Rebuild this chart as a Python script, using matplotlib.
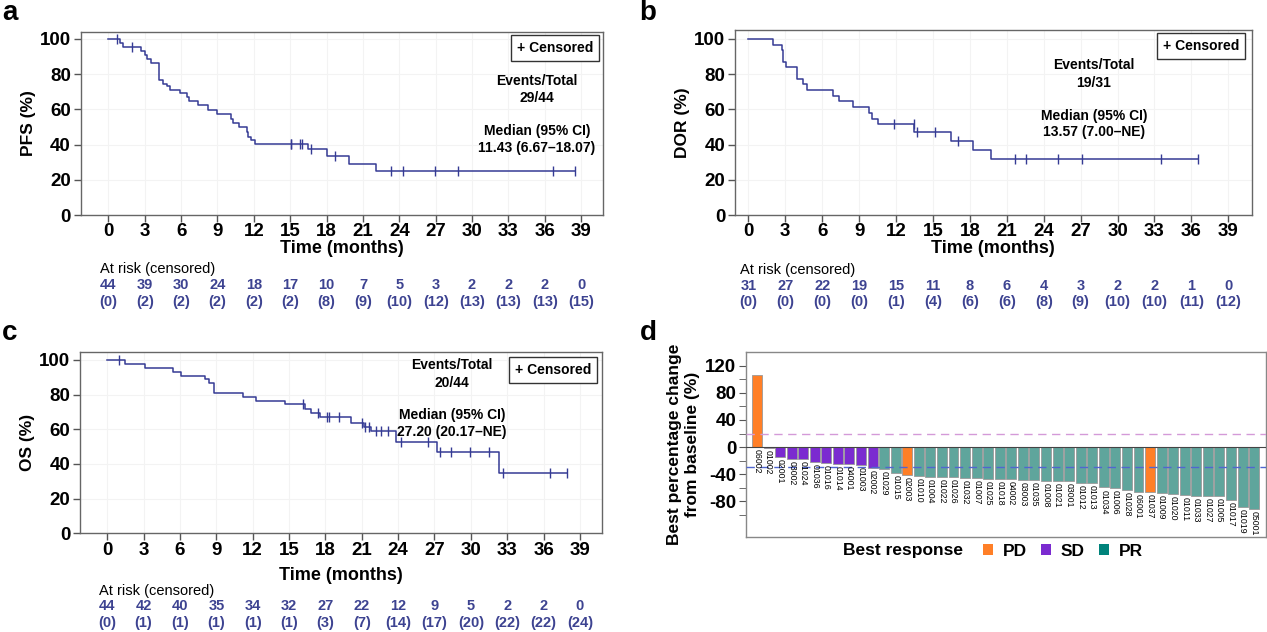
import numpy as np
import matplotlib.pyplot as plt
from matplotlib.patches import Patch
from matplotlib import transforms

plt.rcParams['font.family'] = ['Liberation Sans', 'DejaVu Sans']
plt.rcParams['axes.unicode_minus'] = False

# ---------------- data ----------------
month_ticks = list(range(0, 40, 3))

# a: PFS
pfs_t = [0, 0.96, 1.18, 2.66, 3.05, 3.2, 3.5, 4.2, 4.48, 4.8, 5.08, 5.9, 6.46, 6.65, 7.4,
         8.24, 8.93, 10.08, 10.3, 10.77, 11.4, 11.54, 11.73, 12.09, 16.48, 18.0, 19.86, 22.1]
pfs_s = [100, 97.7, 95.5, 93.2, 90.9, 88.6, 86.4, 76.4, 74.5, 73.0, 71.1, 69.2, 67.0, 64.7, 62.3,
         59.4, 57.2, 54.7, 52.3, 50.0, 47.2, 44.3, 42.5, 40.6, 37.4, 33.4, 28.9, 25.1]
pfs_cens = [0.74, 1.92, 15.03, 15.1, 15.8, 16.0, 16.7, 18.7, 23.35, 24.3, 26.95, 28.85, 36.7, 38.46]
pfs_risk = [44, 39, 30, 24, 18, 17, 10, 7, 5, 3, 2, 2, 2, 0]
pfs_rcens = [0, 2, 2, 2, 2, 2, 8, 9, 10, 12, 13, 13, 13, 15]

# b: DOR
dor_t = [0, 2.03, 2.7, 2.78, 3.06, 3.93, 4.41, 4.79, 6.9, 7.39, 8.48, 9.83, 10.07, 10.56,
         13.5, 16.44, 18.28, 19.71]
dor_s = [100, 96.8, 93.5, 87.1, 83.9, 77.4, 74.2, 71.0, 67.7, 64.5, 61.3, 58.1, 54.8, 51.6,
         47.3, 42.2, 36.9, 32.0]
dor_cens = [11.86, 13.46, 13.73, 15.2, 17.06, 21.66, 22.56, 25.18, 27.13, 33.5, 36.55]
dor_risk = [31, 27, 22, 19, 15, 11, 8, 6, 4, 3, 2, 2, 1, 0]
dor_rcens = [0, 0, 0, 0, 1, 4, 6, 6, 8, 9, 10, 10, 11, 12]

# c: OS
os_t = [0, 1.46, 3.1, 5.39, 6.05, 8.06, 8.41, 8.8, 11.2, 12.24, 14.66, 16.3, 16.85, 17.54,
        20.15, 21.17, 21.8, 23.8, 27.2, 32.3]
os_s = [100, 97.7, 95.2, 92.9, 90.8, 88.8, 86.5, 81.2, 78.8, 76.5, 74.4, 71.5, 69.6, 67.3,
        63.8, 61.5, 59.2, 52.9, 47.1, 35.0]
os_cens = [0.96, 16.17, 17.4, 18.1, 18.3, 19.1, 21.06, 21.25, 21.6, 22.2, 22.6, 23.2, 24.2,
           26.5, 27.44, 28.4, 29.96, 31.5, 32.67, 36.57, 37.9]
os_risk = [44, 42, 40, 35, 34, 32, 27, 22, 12, 9, 5, 2, 2, 0]
os_rcens = [0, 1, 1, 1, 1, 1, 3, 7, 14, 17, 20, 22, 22, 24]

# d: waterfall
pt_ids = ['06002', '01002', '02001', '03002', '01024', '01036', '01016', '01014', '04001',
          '01003', '02002', '01029', '01015', '02003', '01010', '01004', '01022', '01026',
          '01032', '01007', '01025', '01018', '04002', '03003', '01035', '01008', '01021',
          '03001', '01012', '01013', '01034', '01006', '01028', '06001', '01037', '01009',
          '01020', '01011', '01033', '01027', '01005', '01017', '01019', '05001']
pct_change = [107, -2, -15, -18, -18, -22.5, -24, -25, -25.5, -26, -31, -32, -38.7, -40.7,
              -42.6, -44, -44.6, -44.6, -45.6, -45.6, -47.5, -47.5, -47.5, -48.5, -49, -49.5,
              -49.5, -49.5, -53, -53.4, -59.8, -60.3, -63.2, -66, -67, -68, -69.6, -70.6, -72,
              -72, -73, -78, -88, -92]
best_resp = ['PD'] + ['SD'] * 10 + ['PR', 'PR', 'PD'] + ['PR'] * 20 + ['PD'] + ['PR'] * 9

LINE = '#353b94'
RISK = '#3d4391'
bar_col = {'PD': '#ff7f27', 'SD': '#7b2bd0', 'PR': '#5fa59c'}
leg_col = {'PD': '#ff7f27', 'SD': '#7b2bd0', 'PR': '#00837b'}

W, H = 1267, 632
fig = plt.figure(figsize=(W / 100, H / 100), dpi=100)


def px_axes(l, t, r, b):
    return fig.add_axes([l / W, 1 - b / H, (r - l) / W, (b - t) / H])


def yfig(y):
    return 1 - y / H


def km_panel(ax, t, s, cens, xlim, ylim, ylabel, risk, rcens, ypos, xpad):
    t_end = max(cens[-1], t[-1])
    ax.step(list(t) + [t_end], list(s) + [s[-1]], where='post', color=LINE, lw=1.1)
    idx = np.searchsorted(t, cens, side='right') - 1
    ax.plot(cens, np.array(s)[idx], ls='none', marker='|', ms=7, mew=1.0, color=LINE)
    ax.set_xlim(*xlim)
    ax.set_ylim(*ylim)
    ax.set_xticks(month_ticks)
    ax.set_yticks(range(0, 101, 20))
    ax.tick_params(direction='out', length=5, width=1, color='#555555', labelsize=13.5, pad=2)
    ax.tick_params(axis='x', pad=1)
    for lab in ax.get_xticklabels() + ax.get_yticklabels():
        lab.set_fontweight('bold')
    for sp in ax.spines.values():
        sp.set_color('#666666')
        sp.set_linewidth(1)
    ax.grid(True, color='#f3f3f3', lw=0.8)
    ax.set_axisbelow(True)
    ax.set_ylabel(ylabel, fontsize=12.5, fontweight='bold', labelpad=3)
    ax.set_xlabel('Time (months)', fontsize=13, fontweight='bold', labelpad=xpad)
    tr = transforms.blended_transform_factory(ax.transData, fig.transFigure)
    ax.text(-0.65, yfig(ypos[0]), 'At risk (censored)', transform=tr, fontsize=10.5,
            va='center', ha='left')
    for m, n, c in zip(month_ticks, risk, rcens):
        ax.text(m, yfig(ypos[1]), str(n), transform=tr, ha='center', va='center',
                fontsize=10.5, fontweight='bold', color=RISK)
        ax.text(m, yfig(ypos[2]), '(%d)' % c, transform=tr, ha='center', va='center',
                fontsize=10.5, fontweight='bold', color=RISK)


def cens_box(x, y):
    fig.text(x / W, yfig(y), '+ Censored', fontsize=10, fontweight='bold', ha='center',
             va='center', bbox=dict(boxstyle='square,pad=0.4', fc='white', ec='#333333', lw=1))


def stats_text(x, ys, lines):
    for y, s in zip(ys, lines):
        fig.text(x / W, yfig(y), s, fontsize=10, fontweight='bold', ha='center', va='center')


# ---- a ----
ax_a = px_axes(80.7, 31.7, 603, 215)
km_panel(ax_a, pfs_t, pfs_s, pfs_cens, (-2.28, 40.8), (0, 104.1), 'PFS (%)',
         pfs_risk, pfs_rcens, (269, 285, 302), 0)
cens_box(555, 48)
stats_text(537, [81, 98, 131, 148], ['Events/Total', '29/44', 'Median (95% CI)', '11.43 (6.67\u201318.07)'])

# ---- b ----
ax_b = px_axes(735, 30, 1251.7, 215)
km_panel(ax_b, dor_t, dor_s, dor_cens, (-1.08, 40.9), (0, 105.1), 'DOR (%)',
         dor_risk, dor_rcens, (270, 286, 302), 0)
cens_box(1201, 46)
stats_text(1094, [65, 83, 116, 132], ['Events/Total', '19/31', 'Median (95% CI)', '13.57 (7.00\u2013NE)'])

# ---- c ----
ax_c = px_axes(80, 352, 601.7, 533.3)
km_panel(ax_c, os_t, os_s, os_cens, (-2.25, 40.8), (0, 104.6), 'OS (%)',
         os_risk, os_rcens, (591, 606, 623), 6)
cens_box(553, 370)
stats_text(452, [365, 383, 415, 432], ['Events/Total', '20/44', 'Median (95% CI)', '27.20 (20.17\u2013NE)'])

# ---- d ----
ax_d = px_axes(746, 352, 1266, 537)
xs = np.arange(len(pt_ids))
ax_d.bar(xs, pct_change, width=0.86, color=[bar_col[r] for r in best_resp],
         edgecolor='#9a9a9a', linewidth=0.6, zorder=2)
ax_d.axhline(20, color='#d49ad8', ls=(0, (6, 4)), lw=1, zorder=3)
ax_d.axhline(-30, color='#5066d0', ls=(0, (6, 4)), lw=1, zorder=3)
ax_d.axhline(0, color='#444444', lw=0.8, zorder=3)
for x, v, name in zip(xs, pct_change, pt_ids):
    ax_d.text(x, min(v, 0) - 3, name, rotation=270, ha='center', va='top', fontsize=6.3,
              zorder=4)
ax_d.set_xlim(-0.95, 44.03)
ax_d.set_ylim(-133, 140.5)
ax_d.set_xticks([])
ax_d.set_yticks(range(-80, 121, 40))
ax_d.set_yticks(range(-100, 121, 20), minor=True)
ax_d.tick_params(axis='y', which='both', direction='out', length=5, color='#555555',
                 labelsize=13.5, pad=2)
for lab in ax_d.get_yticklabels():
    lab.set_fontweight('bold')
for sp in ax_d.spines.values():
    sp.set_color('#888888')
    sp.set_linewidth(1)
ax_d.set_ylabel('Best percentage change\nfrom baseline (%)', fontsize=12.5, fontweight='bold',
                labelpad=4)

fig.text(843 / W, yfig(551), 'Best response', fontsize=12.5, fontweight='bold', ha='left',
         va='center')
handles = [Patch(facecolor=leg_col[k], edgecolor='none', label=k) for k in ['PD', 'SD', 'PR']]
fig.legend(handles=handles, loc='center left', bbox_to_anchor=(983 / W, yfig(551)), ncol=3,
           frameon=False, handlelength=0.58, handleheight=0.58, handletextpad=0.57,
           columnspacing=0.8, borderpad=0, borderaxespad=0,
           prop={'weight': 'bold', 'size': 12.5})

# panel letters
for s, x, y in [('a', 10, 13), ('b', 648, 13), ('c', 10, 333), ('d', 648, 333)]:
    fig.text(x / W, yfig(y), s, fontsize=20, fontweight='bold', ha='center', va='center')

fig.savefig('out.png', dpi=100)
